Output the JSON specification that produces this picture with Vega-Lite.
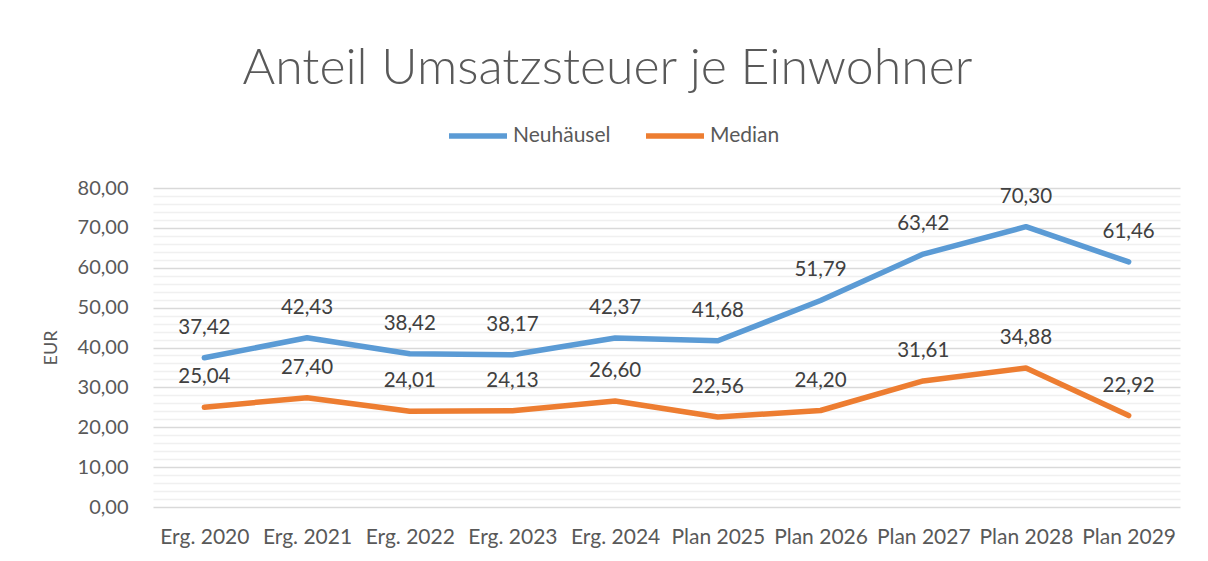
{
  "$schema": "https://vega.github.io/schema/vega-lite/v6.json",
  "width": 1027,
  "height": 319,
  "autosize": {"type": "none"},
  "padding": {"left": 153, "top": 188, "right": 28, "bottom": 54},
  "background": "white",
  "title": {
    "text": "Anteil Umsatzsteuer je Einwohner",
    "font": "Lato",
    "fontWeight": 300,
    "fontSize": 50,
    "color": "#595959",
    "anchor": "middle",
    "frame": "group",
    "dx": -59,
    "offset": 10
  },
  "config": {
    "locale": {"number": {"decimal": ",", "thousands": ".", "grouping": [3], "currency": ["", " €"]}},
    "view": {"stroke": null},
    "font": "Lato"
  },
  "data": {
    "values": [
      {"jahr": "Erg. 2020", "serie": "Neuhäusel", "wert": 37.42},
      {"jahr": "Erg. 2021", "serie": "Neuhäusel", "wert": 42.43},
      {"jahr": "Erg. 2022", "serie": "Neuhäusel", "wert": 38.42},
      {"jahr": "Erg. 2023", "serie": "Neuhäusel", "wert": 38.17},
      {"jahr": "Erg. 2024", "serie": "Neuhäusel", "wert": 42.37},
      {"jahr": "Plan 2025", "serie": "Neuhäusel", "wert": 41.68},
      {"jahr": "Plan 2026", "serie": "Neuhäusel", "wert": 51.79},
      {"jahr": "Plan 2027", "serie": "Neuhäusel", "wert": 63.42},
      {"jahr": "Plan 2028", "serie": "Neuhäusel", "wert": 70.30},
      {"jahr": "Plan 2029", "serie": "Neuhäusel", "wert": 61.46},
      {"jahr": "Erg. 2020", "serie": "Median", "wert": 25.04},
      {"jahr": "Erg. 2021", "serie": "Median", "wert": 27.40},
      {"jahr": "Erg. 2022", "serie": "Median", "wert": 24.01},
      {"jahr": "Erg. 2023", "serie": "Median", "wert": 24.13},
      {"jahr": "Erg. 2024", "serie": "Median", "wert": 26.60},
      {"jahr": "Plan 2025", "serie": "Median", "wert": 22.56},
      {"jahr": "Plan 2026", "serie": "Median", "wert": 24.20},
      {"jahr": "Plan 2027", "serie": "Median", "wert": 31.61},
      {"jahr": "Plan 2028", "serie": "Median", "wert": 34.88},
      {"jahr": "Plan 2029", "serie": "Median", "wert": 22.92}
    ]
  },
  "encoding": {
    "x": {
      "field": "jahr",
      "type": "ordinal",
      "sort": null,
      "scale": {"type": "point", "padding": 0.5},
      "axis": {
        "title": null,
        "labelAngle": 0,
        "labelFontSize": 21,
        "labelColor": "#595959",
        "labelPadding": 19,
        "ticks": false,
        "domain": false,
        "grid": false
      }
    },
    "y": {
      "field": "wert",
      "type": "quantitative",
      "scale": {"domain": [0, 80], "nice": false, "zero": true}
    }
  },
  "layer": [
    {
      "mark": {"type": "line", "strokeWidth": 5.5, "strokeCap": "round", "strokeJoin": "round"},
      "encoding": {
        "y": {
          "field": "wert",
          "type": "quantitative",
          "axis": {
            "orient": "right",
            "values": [2, 4, 6, 8, 12, 14, 16, 18, 22, 24, 26, 28, 32, 34, 36, 38, 42, 44, 46, 48, 52, 54, 56, 58, 62, 64, 66, 68, 72, 74, 76, 78],
            "labels": false,
            "ticks": false,
            "domain": false,
            "title": null,
            "grid": true,
            "gridColor": "#F0F0F0",
            "gridWidth": 1.5
          }
        },
        "color": {
          "field": "serie",
          "type": "nominal",
          "scale": {"domain": ["Neuhäusel", "Median"], "range": ["#5B9BD5", "#ED7D31"]},
          "legend": {
            "title": null,
            "orient": "none",
            "direction": "horizontal",
            "legendX": 293,
            "legendY": -84,
            "symbolType": "stroke",
            "symbolSize": 3364,
            "symbolStrokeWidth": 5.5,
            "labelFontSize": 21,
            "labelColor": "#595959",
            "labelOffset": 3,
            "columnPadding": 24
          }
        }
      }
    },
    {
      "mark": {"type": "text", "fontSize": 20.5, "color": "#404040", "baseline": "middle", "dy": -30},
      "encoding": {
        "y": {
          "field": "wert",
          "type": "quantitative",
          "axis": {
            "orient": "left",
            "values": [0, 10, 20, 30, 40, 50, 60, 70, 80],
            "format": ".2f",
            "labelFontSize": 20,
            "labelColor": "#595959",
            "labelPadding": 25,
            "ticks": false,
            "domain": false,
            "grid": true,
            "gridColor": "#D9D9D9",
            "gridWidth": 1.5,
            "title": "EUR",
            "titleFontSize": 18,
            "titleFontWeight": "normal",
            "titleColor": "#595959",
            "titlePadding": 17
          }
        },
        "text": {"field": "wert", "type": "quantitative", "format": ".2f"}
      }
    }
  ],
  "resolve": {"axis": {"y": "independent"}}
}
